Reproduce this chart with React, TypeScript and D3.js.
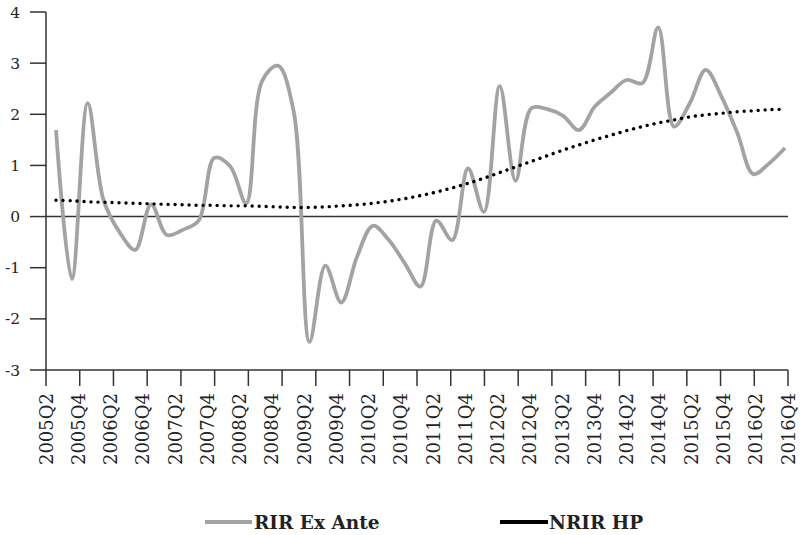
import React from "react";
import * as d3 from "d3";

// quarters 2005Q2 .. 2016Q4
const quarters: string[] = [];
for (let y = 2005; y <= 2016; y++) {
  for (let q = 1; q <= 4; q++) {
    if (y === 2005 && q < 2) continue;
    quarters.push(`${y}Q${q}`);
  }
}

const tickLabels = quarters.filter((q) => q.endsWith("Q2") || q.endsWith("Q4"));

const rirExAnte = [
  1.69, -1.22, 2.22, 0.32, -0.3, -0.65, 0.24, -0.36, -0.26, -0.08,
  1.15, 0.98, 0.26, 2.65, 2.95, 2.05, -2.45, -0.96, -1.68, -0.78,
  -0.18, -0.46, -0.91, -1.37, -0.08, -0.46, 0.94, 0.09, 2.55, 0.7,
  2.12, 2.1, 1.97, 1.69, 2.15, 2.42, 2.67, 2.61, 3.7, 1.76,
  2.22, 2.87, 2.34, 1.63, 0.83, 1.04, 1.34,
];

const nrirHp = [
  0.32, 0.31, 0.29, 0.28, 0.27, 0.26, 0.25, 0.24, 0.23, 0.22,
  0.22, 0.21, 0.21, 0.2, 0.19, 0.18, 0.18, 0.19, 0.21, 0.23,
  0.26, 0.3, 0.35, 0.41, 0.48, 0.56, 0.65, 0.75, 0.86, 0.97,
  1.08, 1.19, 1.3, 1.4, 1.5, 1.59, 1.68, 1.76, 1.83, 1.89,
  1.95, 1.99, 2.02, 2.05, 2.07, 2.09, 2.1,
];

const yTicks = [-3, -2, -1, 0, 1, 2, 3, 4];

const W = 807;
const H = 535;
const left = 46;
const right = 788;
const top = 12;
const bottom = 370;
const txt = { fontFamily: '"DejaVu Serif"' };

export default function App() {
  const x = d3.scalePoint<string>().domain(quarters).range([56, 785]);
  const y = d3.scaleLinear().domain([-3, 4]).range([bottom, top]);
  const xl = d3.scalePoint<string>().domain(tickLabels).range([left, right]);
  const tickX = d3.range(23).map((i) => left + (i * (right - left)) / 22);

  const line = d3
    .line<number>()
    .x((_, i) => x(quarters[i]) as number)
    .y((d) => y(d))
    .curve(d3.curveCatmullRom.alpha(0.5));

  const axisColor = "#333";

  return (
    <svg width={W} height={H} style={{ position: "absolute", left: 0, top: 0, background: "#fff" }}>
      {/* y axis */}
      <line x1={left} x2={left} y1={top} y2={bottom} stroke={axisColor} strokeWidth={1.5} />
      {yTicks.map((t) => (
        <g key={t}>
          <line x1={30} x2={left} y1={y(t)} y2={y(t)} stroke={axisColor} strokeWidth={1.5} />
          <text x={20} y={y(t)} dy="0.36em" textAnchor="end" fontSize={15.5} fill="#222" style={txt}>
            {t}
          </text>
        </g>
      ))}
      {/* zero line */}
      <line x1={left} x2={right} y1={y(0)} y2={y(0)} stroke={axisColor} strokeWidth={1.5} />
      {/* x axis */}
      <line x1={left} x2={right} y1={bottom} y2={bottom} stroke={axisColor} strokeWidth={1.5} />
      {tickX.map((tx, i) => (
        <line key={i} x1={tx} x2={tx} y1={bottom} y2={bottom + 16} stroke={axisColor} strokeWidth={1.5} />
      ))}
      {tickLabels.map((l) => (
        <text
          key={l}
          transform={`translate(${(xl(l) as number) + 6.5},393) rotate(-90)`}
          textAnchor="end"
          fontSize={18}
          fill="#222"
          style={txt}
        >
          {l}
        </text>
      ))}

      {/* series */}
      <path d={line(rirExAnte) ?? ""} fill="none" stroke="#a3a3a3" strokeWidth={3.8} />
      <path
        d={line(nrirHp) ?? ""}
        fill="none"
        stroke="#000"
        strokeWidth={3.4}
        strokeLinecap="round"
        strokeDasharray="0.01 7"
      />

      {/* legend */}
      <line x1={205} x2={252} y1={522} y2={522} stroke="#a3a3a3" strokeWidth={4} />
      <text x={254} y={522} dy="0.36em" fontSize={18.5} fontWeight="bold" fill="#222" style={txt}>
        RIR Ex Ante
      </text>
      <line x1={500} x2={548} y1={522} y2={522} stroke="#000" strokeWidth={4} />
      <text x={549} y={522} dy="0.36em" fontSize={18.5} fontWeight="bold" fill="#222" style={txt}>
        NRIR HP
      </text>
    </svg>
  );
}
